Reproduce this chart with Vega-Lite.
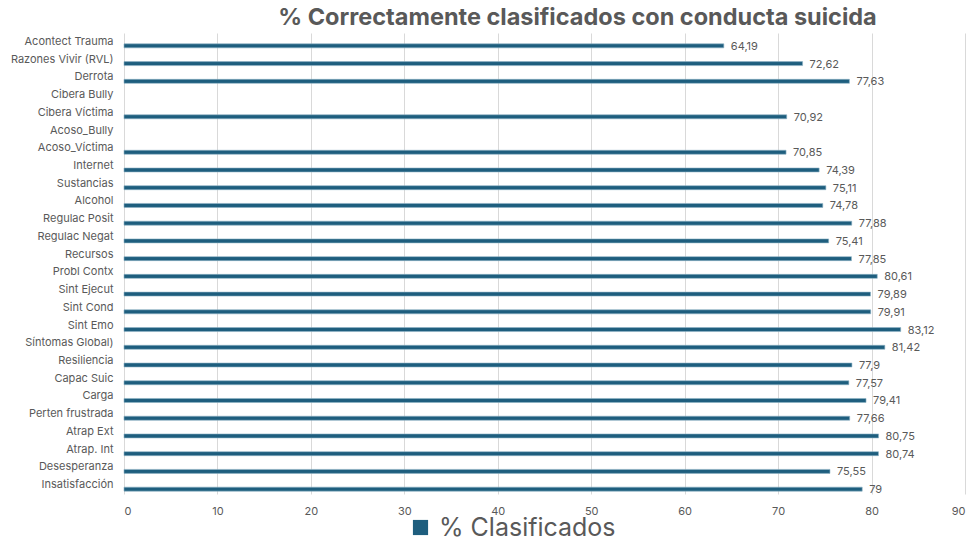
{
  "$schema": "https://vega.github.io/schema/vega-lite/v6.json",
  "autosize": "none",
  "width": 841,
  "height": 461,
  "padding": {"left": 124, "top": 33, "right": 8, "bottom": 46},
  "background": "white",
  "title": {
    "text": "% Correctamente clasificados con conducta suicida",
    "fontSize": 23.5,
    "fontWeight": "bold",
    "color": "#595959",
    "font": "Inter",
    "anchor": "middle",
    "dx": 33,
    "offset": 4
  },
  "config": {
    "locale": {"number": {"decimal": ",", "thousands": ".", "grouping": [3], "currency": ["", " €"]}},
    "view": {"stroke": null},
    "font": "Inter"
  },
  "data": {
    "values": [
      {"variable": "Acontect Trauma", "valor": 64.19},
      {"variable": "Razones Vivir (RVL)", "valor": 72.62},
      {"variable": "Derrota", "valor": 77.63},
      {"variable": "Cibera Bully", "valor": null},
      {"variable": "Cibera Víctima", "valor": 70.92},
      {"variable": "Acoso_Bully", "valor": null},
      {"variable": "Acoso_Víctima", "valor": 70.85},
      {"variable": "Internet", "valor": 74.39},
      {"variable": "Sustancias", "valor": 75.11},
      {"variable": "Alcohol", "valor": 74.78},
      {"variable": "Regulac Posit", "valor": 77.88},
      {"variable": "Regulac Negat", "valor": 75.41},
      {"variable": "Recursos", "valor": 77.85},
      {"variable": "Probl Contx", "valor": 80.61},
      {"variable": "Sint Ejecut", "valor": 79.89},
      {"variable": "Sint Cond", "valor": 79.91},
      {"variable": "Sint Emo", "valor": 83.12},
      {"variable": "Síntomas Global)", "valor": 81.42},
      {"variable": "Resiliencia", "valor": 77.9},
      {"variable": "Capac Suic", "valor": 77.57},
      {"variable": "Carga", "valor": 79.41},
      {"variable": "Perten frustrada", "valor": 77.66},
      {"variable": "Atrap Ext", "valor": 80.75},
      {"variable": "Atrap. Int", "valor": 80.74},
      {"variable": "Desesperanza", "valor": 75.55},
      {"variable": "Insatisfacción", "valor": 79}
    ]
  },
  "encoding": {
    "y": {
      "field": "variable",
      "type": "nominal",
      "sort": null,
      "scale": {
        "domain": ["Acontect Trauma", "Razones Vivir (RVL)", "Derrota", "Cibera Bully", "Cibera Víctima", "Acoso_Bully", "Acoso_Víctima", "Internet", "Sustancias", "Alcohol", "Regulac Posit", "Regulac Negat", "Recursos", "Probl Contx", "Sint Ejecut", "Sint Cond", "Sint Emo", "Síntomas Global)", "Resiliencia", "Capac Suic", "Carga", "Perten frustrada", "Atrap Ext", "Atrap. Int", "Desesperanza", "Insatisfacción"],
        "paddingInner": 0,
        "paddingOuter": 0
      },
      "axis": {
        "title": null,
        "domain": false,
        "ticks": false,
        "grid": false,
        "labelFontSize": 11,
        "labelColor": "#595959",
        "labelPadding": 11,
        "labelFont": "Inter"
      }
    },
    "x": {
      "field": "valor",
      "type": "quantitative",
      "scale": {"domain": [0, 90], "nice": false},
      "axis": {
        "title": null,
        "values": [0, 10, 20, 30, 40, 50, 60, 70, 80, 90],
        "domain": false,
        "ticks": false,
        "grid": true,
        "gridColor": "#d9d9d9",
        "gridWidth": 1,
        "labelFontSize": 11,
        "labelColor": "#595959",
        "labelPadding": 11,
        "labelFont": "Inter"
      }
    }
  },
  "layer": [
    {
      "mark": {"type": "bar", "size": 4, "yOffset": 4, "stroke": "#8fb3c6", "strokeWidth": 0.6},
      "encoding": {
        "color": {
          "datum": "% Clasificados",
          "type": "nominal",
          "scale": {"range": ["#1e5e7e"]},
          "legend": {
            "title": null,
            "orient": "none",
            "legendX": 284,
            "legendY": 482,
            "symbolType": "square",
            "symbolSize": 230,
            "symbolStrokeWidth": 0,
            "labelFontSize": 25,
            "labelColor": "#595959",
            "labelFont": "Inter",
            "labelOffset": 6,
            "labelLimit": 400
          }
        }
      }
    },
    {
      "mark": {"type": "text", "align": "left", "dx": 7, "yOffset": 5, "fontSize": 11, "color": "#595959", "font": "Inter"},
      "encoding": {
        "text": {"field": "valor", "type": "quantitative", "format": ".4~r"}
      }
    }
  ]
}
